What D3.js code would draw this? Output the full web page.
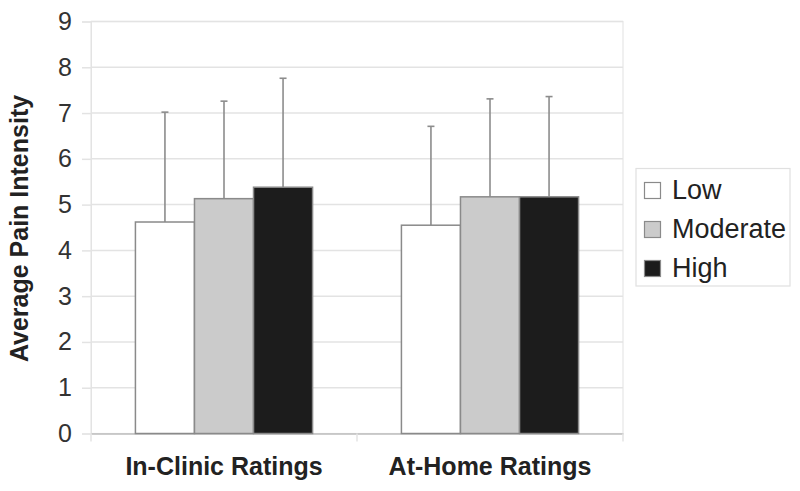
<!DOCTYPE html>
<html><head><meta charset="utf-8">
<script src="https://cdn.jsdelivr.net/npm/d3@7"></script>
<style>body{margin:0;background:#fff}svg{display:block}</style>
</head><body>
<script>
const categories = ["In-Clinic Ratings", "At-Home Ratings"];
const seriesNames = ["Low", "Moderate", "High"];
const means = {
  "Low":      [4.62, 4.55],
  "Moderate": [5.13, 5.17],
  "High":     [5.38, 5.17]
};
const upperErr = {
  "Low":      [7.02, 6.71],
  "Moderate": [7.26, 7.31],
  "High":     [7.76, 7.36]
};
const yTicks = [0,1,2,3,4,5,6,7,8,9];
const colors = {"Low":"#ffffff","Moderate":"#cbcbcb","High":"#1c1c1c"};

const W = 800, H = 491;
const FONT = "Liberation Sans, Arial, sans-serif";
const svg = d3.select("body").append("svg").attr("width", W).attr("height", H);
const m = {left: 91, right: 623, top: 21.5, bottom: 433.5};

const y = d3.scaleLinear().domain([0, 9]).range([m.bottom, m.top]);
const x0 = d3.scaleBand().domain(categories).range([m.left, m.right]).paddingInner(0.334).paddingOuter(0.167);
const x1 = d3.scaleBand().domain(seriesNames).range([0, x0.bandwidth()]);

// plot border
svg.append("rect").attr("x", m.left).attr("y", m.top).attr("width", m.right - m.left).attr("height", m.bottom - m.top)
  .attr("fill", "none").attr("stroke", "#e6e6e6").attr("stroke-width", 1.2);

// grid lines
svg.append("g").selectAll("line").data(yTicks.slice(1)).join("line")
  .attr("x1", m.left).attr("x2", m.right)
  .attr("y1", d => y(d)).attr("y2", d => y(d))
  .attr("stroke", "#e3e3e3").attr("stroke-width", 1.5);

// y axis
const yAxis = svg.append("g").attr("transform", `translate(${m.left},0)`)
  .call(d3.axisLeft(y).tickValues(yTicks).tickSize(9).tickPadding(10));
yAxis.select(".domain").attr("stroke", "#e3e3e3");
yAxis.selectAll(".tick line").attr("stroke", "#e3e3e3").attr("stroke-width", 1.5);
yAxis.selectAll(".tick text").attr("font-family", FONT)
  .attr("font-size", 25).attr("fill", "#333");

// x axis
const xAxis = svg.append("g").attr("transform", `translate(0,${m.bottom})`)
  .call(d3.axisBottom(x0).tickSize(0).tickPadding(24));
xAxis.select(".domain").attr("stroke", "#bdbdbd").attr("stroke-width", 1.5);
xAxis.selectAll(".tick text").attr("font-family", FONT)
  .attr("font-size", 25).attr("font-weight", "bold").attr("fill", "#222");
// category boundary ticks
svg.append("g").selectAll("line").data([m.left, (m.left + m.right) / 2, m.right]).join("line")
  .attr("x1", d => d).attr("x2", d => d).attr("y1", m.bottom).attr("y2", m.bottom + 8)
  .attr("stroke", "#e3e3e3").attr("stroke-width", 1.5);

// bars
const groups = svg.append("g").selectAll("g").data(categories).join("g")
  .attr("transform", d => `translate(${x0(d)},0)`);
groups.each(function(cat, ci) {
  const g = d3.select(this);
  seriesNames.forEach(s => {
    const v = means[s][ci], e = upperErr[s][ci];
    const cx = x1(s) + x1.bandwidth() / 2;
    g.append("line").attr("x1", cx).attr("x2", cx).attr("y1", y(v)).attr("y2", y(e))
      .attr("stroke", "#8c8c8c").attr("stroke-width", 1.6);
    g.append("line").attr("x1", cx - 3.5).attr("x2", cx + 3.5).attr("y1", y(e)).attr("y2", y(e))
      .attr("stroke", "#8c8c8c").attr("stroke-width", 1.6);
  });
  seriesNames.forEach(s => {
    const v = means[s][ci];
    g.append("rect").attr("x", x1(s)).attr("y", y(v)).attr("width", x1.bandwidth()).attr("height", y(0) - y(v))
      .attr("fill", colors[s]).attr("stroke", "#8a8a8a").attr("stroke-width", 1.5);
  });
});

// y title
svg.append("text").attr("transform", `translate(28,228.5) rotate(-90)`)
  .attr("text-anchor", "middle").attr("font-family", FONT)
  .attr("font-size", 25).attr("font-weight", "bold").attr("fill", "#222").text("Average Pain Intensity");

// legend
const leg = svg.append("g");
leg.append("rect").attr("x", 636).attr("y", 168.5).attr("width", 154).attr("height", 117.5)
  .attr("fill", "#fff").attr("stroke", "#e0e0e0").attr("stroke-width", 1.2);
seriesNames.forEach((s, i) => {
  const base = 198.5 + i * 39;
  leg.append("rect").attr("x", 644.5).attr("y", base - 16).attr("width", 16).attr("height", 16)
    .attr("fill", colors[s]).attr("stroke", "#8a8a8a").attr("stroke-width", 1.2);
  leg.append("text").attr("x", 672).attr("y", base).attr("font-family", FONT)
    .attr("font-size", 27).attr("fill", "#222").text(s);
});
</script>
</body></html>
